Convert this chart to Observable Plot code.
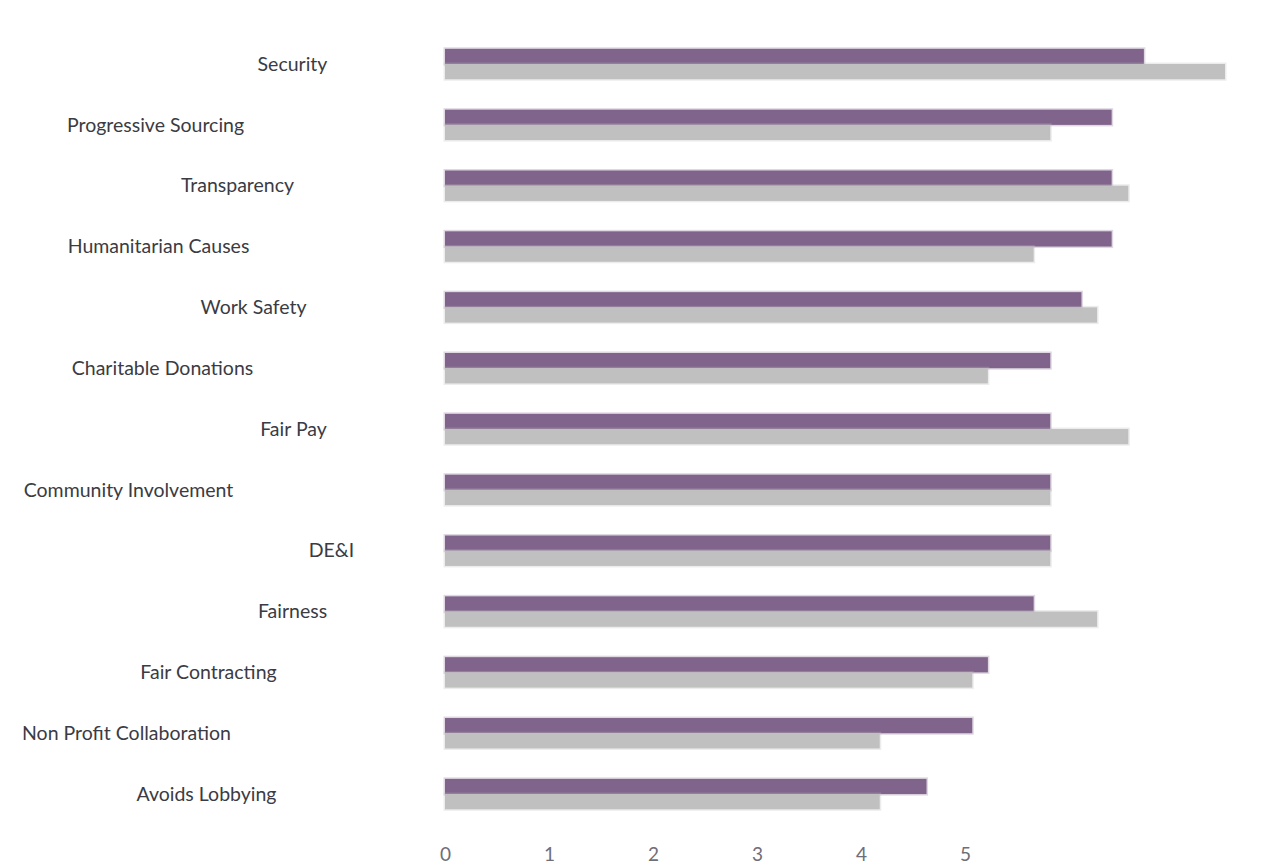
<!DOCTYPE html>
<html>
<head>
<meta charset="utf-8">
<script src="https://cdn.jsdelivr.net/npm/d3@7"></script>
<script src="https://cdn.jsdelivr.net/npm/@observablehq/plot@0.6"></script>
<style>
  html, body { margin: 0; padding: 0; background: #fff; }
  #chart { width: 1275px; height: 865px; }
</style>
</head>
<body>
<div id="chart"></div>
<script>
const categories = [
  "Security", "Progressive Sourcing", "Transparency", "Humanitarian Causes",
  "Work Safety", "Charitable Donations", "Fair Pay", "Community Involvement",
  "DE&I", "Fairness", "Fair Contracting", "Non Profit Collaboration", "Avoids Lobbying"
];
const seriesA = [6.72, 6.41, 6.41, 6.41, 6.12, 5.82, 5.82, 5.82, 5.82, 5.66, 5.22, 5.07, 4.63];
const seriesB = [7.50, 5.82, 6.57, 5.66, 6.27, 5.22, 6.57, 5.82, 5.82, 6.27, 5.07, 4.18, 4.18];
const xTicks = [0, 1, 2, 3, 4, 5];

// layout: horizontal centre of each category label (px)
const labelCenters = [292, 155, 237, 158, 253, 162, 293, 128, 331, 292, 208, 126, 206];

const dataA = categories.map((c, i) => ({category: c, value: seriesA[i]}));
const dataB = categories.map((c, i) => ({category: c, value: seriesB[i]}));

const W = 1275, H = 865, ML = 445;
const half = 15.2;

const chart = Plot.plot({
  width: W,
  height: H,
  marginLeft: ML,
  marginRight: 50,
  marginTop: 18,
  marginBottom: 25,
  style: {fontFamily: "Lato, 'Open Sans', sans-serif", background: "#fff"},
  x: {domain: [0, 7.5], axis: null, label: null},
  y: {domain: categories, range: [18.4, 839.7], padding: 0.5, round: false, axis: null},
  marks: [
    Plot.barX(dataA, {y: "category", x: "value", insetBottom: half, fill: "#80648b",
      stroke: "#80648b", strokeOpacity: 0.25, strokeWidth: 3}),
    Plot.barX(dataB, {y: "category", x: "value", insetTop: half, fill: "#c0c0c0",
      stroke: "#c0c0c0", strokeOpacity: 0.3, strokeWidth: 3}),
    ...categories.map((c, i) => Plot.text([c], {
      y: d => d, frameAnchor: "left", dx: labelCenters[i] - ML, textAnchor: "middle",
      fontSize: 19.5, fill: "#3b3b44"
    })),
    Plot.axisX({ticks: xTicks, tickSize: 0, tickPadding: 7, fontSize: 19,
      color: "#6e6e78", anchor: "bottom", label: null, tickFormat: d => String(d)})
  ]
});
document.getElementById("chart").appendChild(chart);
</script>
</body>
</html>
